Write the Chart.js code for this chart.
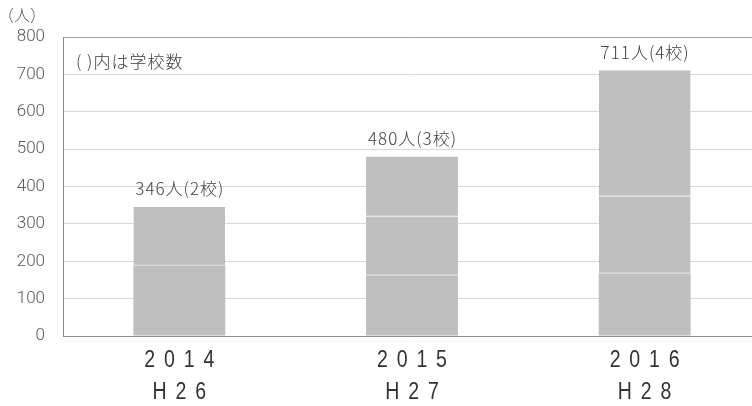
<!DOCTYPE html>
<html>
<head>
<meta charset="utf-8">
<script src="https://cdn.jsdelivr.net/npm/chart.js@4/dist/chart.umd.min.js"></script>
<style>
html,body{margin:0;padding:0;background:#fff;overflow:hidden;width:752px;height:406px;}
canvas{display:block;}
</style>
</head>
<body>
<canvas id="c" width="770" height="406"></canvas>
<script>
// Data
const years = ['2014', '2015', '2016'];
const eras = ['H26', 'H27', 'H28'];
const school1 = [188, 162, 167];
const school2 = [158, 158, 206];
const school3 = [null, 160, 170];
const school4 = [null, null, 168];
const barLabels = ['346人(2校)', '480人(3校)', '711人(4校)'];
const yTicks = [0, 100, 200, 300, 400, 500, 600, 700, 800];
const unitLabel = '（人）';
const noteLabel = '( )内は学校数';

const BAR = '#bfbfbf';
const SEP = '#c3c3c3';

function ds(data, first) {
  return {
    data: data,
    backgroundColor: BAR,
    borderColor: SEP,
    borderWidth: first ? 0 : {top: 0, left: 0, right: 0, bottom: 1},
    borderSkipped: false,
    barPercentage: 0.395,
    categoryPercentage: 1
  };
}

const textPlugin = {
  id: 'texts',
  afterDatasetsDraw(chart) {
    const ctx = chart.ctx;
    const xs = chart.scales.x, ys = chart.scales.y;
    ctx.save();
    ctx.textAlign = 'center';
    ctx.textBaseline = 'middle';
    // bar total labels
    ctx.fillStyle = '#404040';
    ctx.font = '300 17px "Noto Sans CJK JP", sans-serif';
    try { ctx.letterSpacing = '1px'; } catch (e) {}
    years.forEach((y, i) => {
      let total = 0;
      chart.data.datasets.forEach(d => { total += d.data[i] || 0; });
      const px = xs.getPixelForValue(i) + 0.5;
      const py = ys.getPixelForValue(total) - 18;
      ctx.fillText(barLabels[i], px, py);
    });
    // x labels (two lines, condensed, letter spaced)
    ctx.fillStyle = '#333333';
    ctx.font = '23px "Liberation Sans", sans-serif';
    try { ctx.letterSpacing = '10.4px'; } catch (e) {}
    years.forEach((y, i) => {
      const px = xs.getPixelForValue(i) + 4.4;
      [[y, 361], [eras[i], 393]].forEach(([t, ty]) => {
        ctx.save();
        ctx.translate(px, ty);
        ctx.scale(0.85, 1);
        ctx.fillText(t, 0, 0);
        ctx.restore();
      });
    });
    // unit label
    try { ctx.letterSpacing = '0px'; } catch (e) {}
    ctx.fillStyle = '#595959';
    ctx.textAlign = 'left';
    ctx.font = '300 16px "Noto Sans CJK JP", sans-serif';
    ctx.fillText(unitLabel, -2, 15);
    // note
    ctx.fillStyle = '#404040';
    ctx.font = '300 17px "Noto Sans CJK JP", sans-serif';
    try { ctx.letterSpacing = '1px'; } catch (e) {}
    ctx.fillText(noteLabel, 76, 62);
    ctx.restore();
  }
};

new Chart(document.getElementById('c'), {
  type: 'bar',
  data: {
    labels: years,
    datasets: [ds(school1, true), ds(school2), ds(school3), ds(school4)]
  },
  options: {
    responsive: false,
    animation: false,
    devicePixelRatio: 1,
    layout: {padding: {left: 0, top: 37, right: 9, bottom: 0}},
    plugins: {legend: {display: false}, tooltip: {enabled: false}},
    scales: {
      x: {
        stacked: true,
        grid: {display: false, drawTicks: false},
        border: {display: true, color: '#8c8c8c', width: 1},
        ticks: {display: false},
        afterFit(s) { s.height = 70; }
      },
      y: {
        stacked: true,
        min: 0, max: 800,
        afterBuildTicks(s) { s.ticks = yTicks.map(v => ({value: v})); },
        grid: {
          drawTicks: false,
          color: ctx => (ctx.tick && ctx.tick.value === 800) ? '#a6a6a6' : '#d9d9d9',
          lineWidth: 1
        },
        border: {display: true, color: '#8c8c8c', width: 1},
        ticks: {
          padding: 18,
          color: '#595959',
          font: {family: '"Roboto", "Liberation Sans", sans-serif', size: 17, weight: '300'}
        },
        afterFit(s) { s.width = 63; }
      }
    }
  },
  plugins: [textPlugin]
});
</script>
</body>
</html>
